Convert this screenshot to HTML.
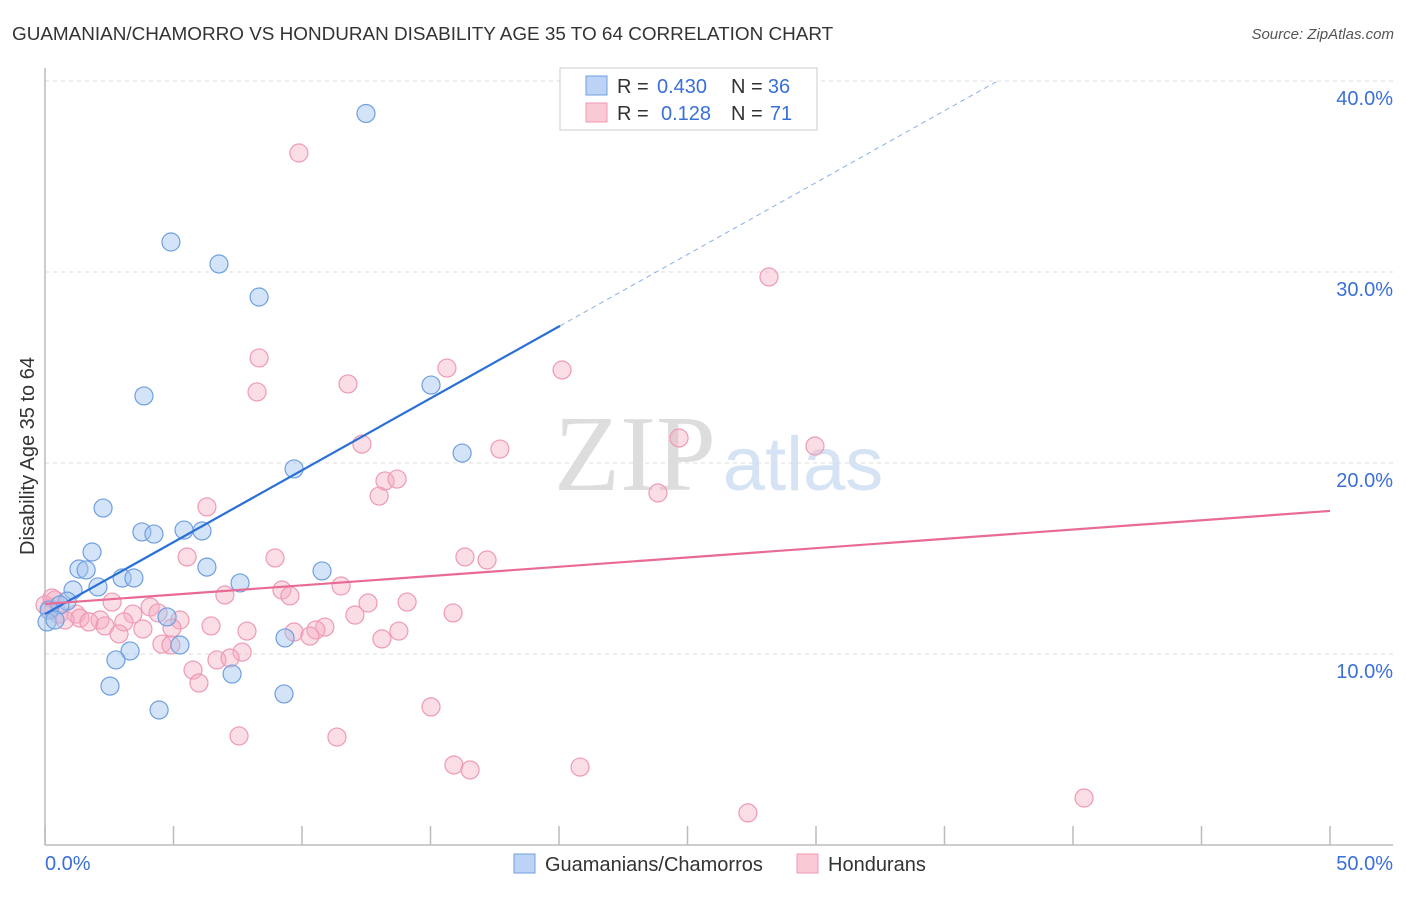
<!DOCTYPE html>
<html><head><meta charset="utf-8">
<style>
body{margin:0;background:#fff;font-family:"Liberation Sans",sans-serif;}
svg text{font-family:"Liberation Sans",sans-serif;}
</style></head>
<body>
<svg id="chart" width="1406" height="892" xmlns="http://www.w3.org/2000/svg">
<text x="12" y="40" font-size="18.9" fill="#333">GUAMANIAN/CHAMORRO VS HONDURAN DISABILITY AGE 35 TO 64 CORRELATION CHART</text>
<text x="1394" y="39" font-size="15" fill="#555" text-anchor="end" font-style="italic">Source: ZipAtlas.com</text>
<g>
<text x="635" y="490" font-size="108" fill="#ddd" text-anchor="middle" style="font-family:'Liberation Serif',serif">ZIP</text>
<text x="803" y="490" font-size="76" fill="#d5e3f5" text-anchor="middle">atlas</text>
</g>
<g id="grid"></g>
<g id="axes"></g>
<g id="marks"></g>
<text transform="translate(34,456) rotate(-90)" font-size="20" fill="#333" text-anchor="middle">Disability Age 35 to 64</text>
<g>
<rect x="560" y="68" width="257" height="62" fill="#fff" stroke="#ccc"/>
<rect x="586" y="76" width="21" height="19" fill="#bcd3f5" stroke="#6f9fe0"/>
<rect x="586" y="103" width="21" height="19" fill="#f9c9d6" stroke="#ee9ab2"/>
<text x="617" y="93" font-size="20" fill="#333">R =</text>
<text x="682" y="93" font-size="20" fill="#3a6fd8" text-anchor="middle">0.430</text>
<text x="731" y="93" font-size="20" fill="#333">N =</text>
<text x="779" y="93" font-size="20" fill="#3a6fd8" text-anchor="middle">36</text>
<text x="617" y="120" font-size="20" fill="#333">R =</text>
<text x="686" y="120" font-size="20" fill="#3a6fd8" text-anchor="middle">0.128</text>
<text x="731" y="120" font-size="20" fill="#333">N =</text>
<text x="781" y="120" font-size="20" fill="#3a6fd8" text-anchor="middle">71</text>
</g>
<g>
<rect x="514" y="854" width="21" height="19" fill="#bcd3f5" stroke="#6f9fe0"/>
<text x="545" y="871" font-size="20" fill="#333">Guamanians/Chamorros</text>
<rect x="797" y="854" width="21" height="19" fill="#f9c9d6" stroke="#ee9ab2"/>
<text x="828" y="871" font-size="20" fill="#333">Hondurans</text>
</g>
</svg>
<script>
const blueX=[12.49,4.90,6.77,8.33,3.85,15.02,16.23,9.69,2.26,3.77,4.24,5.41,6.11,1.83,1.32,1.60,6.30,10.78,3.00,3.46,7.59,1.09,2.06,0.86,0.58,0.16,0.08,0.39,4.75,9.34,5.25,3.31,2.76,7.28,2.53,4.44,9.30];
const blueY=[38.3,31.57,30.42,28.69,23.51,24.08,20.52,19.69,17.64,16.39,16.28,16.49,16.44,15.34,14.45,14.40,14.55,14.35,13.98,13.98,13.72,13.35,13.51,12.77,12.57,12.30,11.68,11.78,11.94,10.84,10.47,10.16,9.69,8.95,8.32,7.07,7.91];
const pinkX=[9.88,28.17,8.33,8.25,11.79,15.64,20.12,12.33,17.70,24.67,29.96,23.85,6.30,13.00,13.23,13.70,5.53,8.95,16.34,17.20,11.52,9.22,9.53,7.00,14.09,12.57,2.61,4.09,3.42,4.40,2.14,1.21,0.54,1.36,1.71,2.33,3.07,5.25,0.39,0.19,6.46,4.94,12.06,15.88,10.89,10.54,9.69,10.31,7.86,2.88,13.77,13.11,4.55,4.90,7.67,6.69,7.20,5.76,5.99,15.02,7.55,11.36,15.91,16.54,20.82,40.43,27.35,3.81,0.78,0.00,0.27];
const pinkY=[36.23,29.74,25.50,23.72,24.14,24.97,24.87,20.99,20.73,21.31,20.89,18.43,17.70,18.27,19.06,19.16,15.08,15.03,15.08,14.92,13.56,13.35,13.04,13.09,12.72,12.67,12.72,12.46,12.09,12.15,11.78,12.09,12.09,11.88,11.68,11.47,11.68,11.78,12.83,12.41,11.47,11.36,12.04,12.15,11.41,11.26,11.15,10.94,11.20,11.05,11.20,10.79,10.52,10.47,10.10,9.69,9.79,9.16,8.48,7.23,5.71,5.65,4.19,3.93,4.08,2.46,1.68,11.31,11.78,12.57,12.93];
const yTicks=[10,20,30,40];
const yTickLabels=["10.0%","20.0%","30.0%","40.0%"];
const xTicks=[0,5,10,15,20,25,30,35,40,45,50];
const blueTrend=[12.09,0.753];
const pinkTrend=[12.62,0.0974];

const NS="http://www.w3.org/2000/svg";
const sx=v=>45+v*25.7;
const sy=v=>845-v*19.1;
function mk(tag,attrs,parent){const e=document.createElementNS(NS,tag);for(const k in attrs)e.setAttribute(k,attrs[k]);parent.appendChild(e);return e;}
const grid=document.getElementById('grid'),axes=document.getElementById('axes'),marks=document.getElementById('marks');
yTicks.forEach((t,i)=>{
 const l=mk('line',{x1:45,x2:1393,y1:sy(t),y2:sy(t),stroke:'#ddd','stroke-dasharray':'4,4'},grid);
 
 
 const tx=mk('text',{x:1393,y:sy(t)+24,'font-size':20,fill:'#3a6fd8','text-anchor':'end'},axes);
 tx.textContent=yTickLabels[i];
 
 
});
const ax=mk('line',{x1:45,x2:1393,y1:845,y2:845,stroke:'#bbb','stroke-width':1.5},axes);


const ay=mk('line',{x1:45,x2:45,y1:68,y2:845,stroke:'#bbb','stroke-width':1.5},axes);


xTicks.forEach(t=>{
 const l=mk('line',{x1:sx(t),x2:sx(t),y1:826,y2:845,stroke:'#bbb','stroke-width':1.5},axes);
 
 
});
const x0=mk('text',{x:45,y:870,'font-size':20,fill:'#3a6fd8'},axes);x0.textContent='0.0%';


const x1=mk('text',{x:1393,y:870,'font-size':20,fill:'#3a6fd8','text-anchor':'end'},axes);x1.textContent='50.0%';



pinkX.forEach((x,i)=>{
 const c=mk('circle',{cx:sx(x),cy:sy(pinkY[i]),r:9,fill:'rgba(246,170,193,0.4)',stroke:'#ee9ab2','stroke-width':1.2},marks);
 
 
});
blueX.forEach((x,i)=>{
 const c=mk('circle',{cx:sx(x),cy:sy(blueY[i]),r:9,fill:'rgba(160,195,240,0.45)',stroke:'#6f9fe0','stroke-width':1.2},marks);
 
 
});
const bx2=20.04, bx3=(40-blueTrend[0])/blueTrend[1];
const bl=mk('line',{x1:sx(0),y1:sy(blueTrend[0]),x2:sx(bx2),y2:sy(blueTrend[0]+blueTrend[1]*bx2),stroke:'#2a6fd6','stroke-width':2.2},marks);


const bd=mk('line',{x1:sx(bx2),y1:sy(blueTrend[0]+blueTrend[1]*bx2),x2:sx(bx3),y2:sy(40),stroke:'#8ab0e6','stroke-width':1,'stroke-dasharray':'5,4'},marks);


const pl=mk('line',{x1:sx(0),y1:sy(pinkTrend[0]),x2:sx(50),y2:sy(pinkTrend[0]+pinkTrend[1]*50),stroke:'#e96a95','stroke-width':2.2},marks);


</script>
</body></html>
